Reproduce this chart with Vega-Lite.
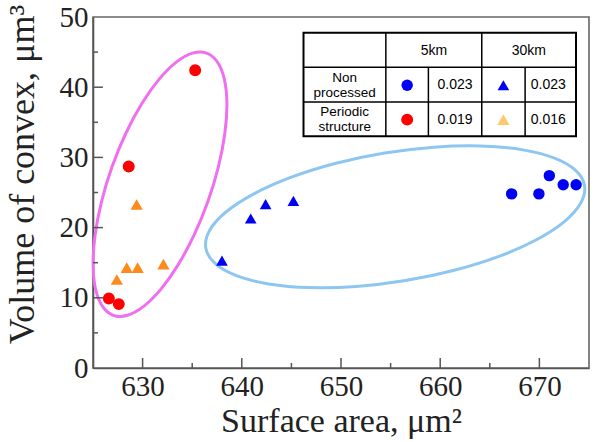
{
  "$schema": "https://vega.github.io/schema/vega-lite/v6.json",
  "width": 496,
  "height": 351,
  "autosize": "none",
  "padding": {"left": 93, "top": 17, "right": 8, "bottom": 74},
  "background": "white",
  "config": {
    "view": {"stroke": "#666666", "strokeWidth": 1.6},
    "axis": {
      "grid": false,
      "ticks": false,
      "domainColor": "#555555",
      "domainWidth": 1.6,
      "labelFont": "Liberation Serif",
      "labelFontSize": 29,
      "labelColor": "#222222",
      "labelFlush": false,
      "labelOverlap": false,
      "titleFont": "Liberation Serif",
      "titleFontSize": 34,
      "titleFontWeight": "normal",
      "titleColor": "#222222"
    }
  },
  "datasets": {
    "samples": [
      {"group": "Periodic 5km", "area": 635.3, "volume": 42.4},
      {"group": "Periodic 5km", "area": 628.6, "volume": 28.7},
      {"group": "Periodic 5km", "area": 626.6, "volume": 9.9},
      {"group": "Periodic 5km", "area": 627.6, "volume": 9.1},
      {"group": "Periodic 30km", "area": 629.4, "volume": 23.3},
      {"group": "Periodic 30km", "area": 628.4, "volume": 14.3},
      {"group": "Periodic 30km", "area": 629.5, "volume": 14.3},
      {"group": "Periodic 30km", "area": 632.1, "volume": 14.8},
      {"group": "Periodic 30km", "area": 627.4, "volume": 12.6},
      {"group": "Non processed 30km", "area": 638.0, "volume": 15.3},
      {"group": "Non processed 30km", "area": 640.9, "volume": 21.3},
      {"group": "Non processed 30km", "area": 642.4, "volume": 23.35},
      {"group": "Non processed 30km", "area": 645.2, "volume": 23.8},
      {"group": "Non processed 5km", "area": 667.2, "volume": 24.8},
      {"group": "Non processed 5km", "area": 669.95, "volume": 24.8},
      {"group": "Non processed 5km", "area": 671.0, "volume": 27.4},
      {"group": "Non processed 5km", "area": 672.4, "volume": 26.1},
      {"group": "Non processed 5km", "area": 673.7, "volume": 26.1}
    ],
    "ringPeriodic": [
      {"k": 0, "area": 636.45, "volume": 44.86},
      {"k": 1, "area": 635.03, "volume": 44.85},
      {"k": 2, "area": 633.40, "volume": 43.58},
      {"k": 3, "area": 631.65, "volume": 41.12},
      {"k": 4, "area": 629.91, "volume": 37.63},
      {"k": 5, "area": 628.29, "volume": 33.37},
      {"k": 6, "area": 626.91, "volume": 28.62},
      {"k": 7, "area": 625.86, "volume": 23.70},
      {"k": 8, "area": 625.21, "volume": 18.95},
      {"k": 9, "area": 625.01, "volume": 14.70},
      {"k": 10, "area": 625.26, "volume": 11.22},
      {"k": 11, "area": 625.96, "volume": 8.77},
      {"k": 12, "area": 627.05, "volume": 7.50},
      {"k": 13, "area": 628.47, "volume": 7.51},
      {"k": 14, "area": 630.10, "volume": 8.78},
      {"k": 15, "area": 631.85, "volume": 11.24},
      {"k": 16, "area": 633.59, "volume": 14.73},
      {"k": 17, "area": 635.21, "volume": 18.99},
      {"k": 18, "area": 636.59, "volume": 23.74},
      {"k": 19, "area": 637.64, "volume": 28.66},
      {"k": 20, "area": 638.29, "volume": 33.41},
      {"k": 21, "area": 638.50, "volume": 37.66},
      {"k": 22, "area": 638.24, "volume": 41.14},
      {"k": 23, "area": 637.54, "volume": 43.59}
    ],
    "ringNonProcessed": [
      {"k": 0, "area": 674.55, "volume": 25.99},
      {"k": 1, "area": 673.62, "volume": 28.19},
      {"k": 2, "area": 671.46, "volume": 29.93},
      {"k": 3, "area": 668.21, "volume": 31.11},
      {"k": 4, "area": 664.09, "volume": 31.63},
      {"k": 5, "area": 659.38, "volume": 31.46},
      {"k": 6, "area": 654.40, "volume": 30.62},
      {"k": 7, "area": 649.50, "volume": 29.16},
      {"k": 8, "area": 645.00, "volume": 27.18},
      {"k": 9, "area": 641.22, "volume": 24.81},
      {"k": 10, "area": 638.40, "volume": 22.22},
      {"k": 11, "area": 636.75, "volume": 19.59},
      {"k": 12, "area": 636.37, "volume": 17.09},
      {"k": 13, "area": 637.30, "volume": 14.89},
      {"k": 14, "area": 639.46, "volume": 13.15},
      {"k": 15, "area": 642.71, "volume": 11.97},
      {"k": 16, "area": 646.83, "volume": 11.45},
      {"k": 17, "area": 651.54, "volume": 11.62},
      {"k": 18, "area": 656.52, "volume": 12.46},
      {"k": 19, "area": 661.42, "volume": 13.92},
      {"k": 20, "area": 665.92, "volume": 15.90},
      {"k": 21, "area": 669.70, "volume": 18.27},
      {"k": 22, "area": 672.52, "volume": 20.86},
      {"k": 23, "area": 674.17, "volume": 23.49}
    ],
    "areaMajorTicks": [{"tick": 630}, {"tick": 640}, {"tick": 650}, {"tick": 660}, {"tick": 670}],
    "areaMinorTicks": [{"tick": 635}, {"tick": 645}, {"tick": 655}, {"tick": 665}],
    "volumeMajorTicks": [{"tick": 10}, {"tick": 20}, {"tick": 30}, {"tick": 40}],
    "volumeMinorTicks": [{"tick": 5}, {"tick": 15}, {"tick": 25}, {"tick": 35}, {"tick": 45}],
    "keyFrame": [
      {"area": 646.22, "area2": 673.69, "volume": 33.0, "volume2": 47.75}
    ],
    "keyLines": [
      {"area": 646.22, "area2": 673.69, "volume": 42.84, "volume2": 42.84},
      {"area": 646.22, "area2": 673.69, "volume": 37.90, "volume2": 37.90},
      {"area": 654.52, "area2": 654.52, "volume": 33.0, "volume2": 47.75},
      {"area": 664.19, "area2": 664.19, "volume": 33.0, "volume2": 47.75},
      {"area": 658.81, "area2": 658.81, "volume": 33.0, "volume2": 42.84},
      {"area": 668.56, "area2": 668.56, "volume": 33.0, "volume2": 42.84}
    ],
    "keyText": [
      {"area": 659.36, "volume": 45.12, "label": "5km"},
      {"area": 668.94, "volume": 45.12, "label": "30km"},
      {"area": 661.5, "volume": 40.27, "label": "0.023"},
      {"area": 670.9, "volume": 40.27, "label": "0.023"},
      {"area": 661.5, "volume": 35.38, "label": "0.019"},
      {"area": 670.9, "volume": 35.38, "label": "0.016"}
    ],
    "keyRowLabels": [
      {"area": 650.37, "volume": 40.27, "label": "Non\nprocessed"},
      {"area": 650.37, "volume": 35.38, "label": "Periodic\nstructure"}
    ],
    "keySymbols": [
      {"area": 656.67, "volume": 40.27, "group": "Non processed 5km"},
      {"area": 666.37, "volume": 40.27, "group": "Non processed 30km"},
      {"area": 656.67, "volume": 35.38, "group": "Periodic 5km"},
      {"area": 666.37, "volume": 35.38, "group": "Periodic 30km"}
    ]
  },
  "layer": [
    {
      "data": {"name": "ringPeriodic"},
      "mark": {"type": "line", "interpolate": "cardinal-closed", "color": "#F06EF0", "strokeWidth": 3},
      "encoding": {
        "x": {
          "field": "area", "type": "quantitative",
          "scale": {"domain": [625, 675], "nice": false, "zero": false},
          "axis": {
            "values": [630, 640, 650, 660, 670],
            "labelPadding": 4,
            "title": "Surface area,  μm²",
            "titlePadding": 3
          }
        },
        "y": {
          "field": "volume", "type": "quantitative",
          "scale": {"domain": [0, 50], "nice": false},
          "axis": {
            "values": [0, 10, 20, 30, 40, 50],
            "labelPadding": 5,
            "title": "Volume of convex, μm³",
            "titleFontSize": 36,
            "titlePadding": 18,
            "titleY": 157
          }
        },
        "order": {"field": "k", "type": "quantitative"}
      }
    },
    {
      "data": {"name": "ringNonProcessed"},
      "mark": {"type": "line", "interpolate": "cardinal-closed", "color": "#8EC6F2", "strokeWidth": 3},
      "encoding": {
        "x": {"field": "area", "type": "quantitative"},
        "y": {"field": "volume", "type": "quantitative"},
        "order": {"field": "k", "type": "quantitative"}
      }
    },
    {
      "data": {"name": "areaMajorTicks"},
      "mark": {"type": "rule", "color": "#555555", "strokeWidth": 1.5},
      "encoding": {
        "x": {"field": "tick", "type": "quantitative"},
        "y": {"datum": 0, "type": "quantitative"},
        "y2": {"datum": 1.43}
      }
    },
    {
      "data": {"name": "areaMinorTicks"},
      "mark": {"type": "rule", "color": "#555555", "strokeWidth": 1.5},
      "encoding": {
        "x": {"field": "tick", "type": "quantitative"},
        "y": {"datum": 0, "type": "quantitative"},
        "y2": {"datum": 0.71}
      }
    },
    {
      "data": {"name": "volumeMajorTicks"},
      "mark": {"type": "rule", "color": "#555555", "strokeWidth": 1.5},
      "encoding": {
        "y": {"field": "tick", "type": "quantitative"},
        "x": {"datum": 625, "type": "quantitative"},
        "x2": {"datum": 626.0}
      }
    },
    {
      "data": {"name": "volumeMinorTicks"},
      "mark": {"type": "rule", "color": "#555555", "strokeWidth": 1.5},
      "encoding": {
        "y": {"field": "tick", "type": "quantitative"},
        "x": {"datum": 625, "type": "quantitative"},
        "x2": {"datum": 625.5}
      }
    },
    {
      "data": {"name": "samples"},
      "mark": {"type": "point", "filled": true, "opacity": 1, "strokeWidth": 0},
      "encoding": {
        "x": {"field": "area", "type": "quantitative"},
        "y": {"field": "volume", "type": "quantitative"},
        "shape": {
          "field": "group", "type": "nominal",
          "scale": {
            "domain": ["Non processed 5km", "Non processed 30km", "Periodic 5km", "Periodic 30km"],
            "range": ["circle", "triangle-up", "circle", "triangle-up"]
          },
          "legend": null
        },
        "color": {
          "field": "group", "type": "nominal",
          "scale": {
            "domain": ["Non processed 5km", "Non processed 30km", "Periodic 5km", "Periodic 30km"],
            "range": ["#0000F5", "#0000F5", "#FF0000", "#FF8A1C"]
          },
          "legend": null
        },
        "size": {
          "field": "group", "type": "nominal",
          "scale": {
            "domain": ["Non processed 5km", "Non processed 30km", "Periodic 5km", "Periodic 30km"],
            "range": [130, 150, 130, 150]
          },
          "legend": null
        }
      }
    },
    {
      "data": {"name": "keyFrame"},
      "mark": {"type": "rect", "fill": "white", "stroke": "black", "strokeWidth": 2},
      "encoding": {
        "x": {"field": "area", "type": "quantitative"},
        "x2": {"field": "area2"},
        "y": {"field": "volume", "type": "quantitative"},
        "y2": {"field": "volume2"}
      }
    },
    {
      "data": {"name": "keyLines"},
      "mark": {"type": "rule", "color": "black", "strokeWidth": 1.5},
      "encoding": {
        "x": {"field": "area", "type": "quantitative"},
        "x2": {"field": "area2"},
        "y": {"field": "volume", "type": "quantitative"},
        "y2": {"field": "volume2"}
      }
    },
    {
      "data": {"name": "keySymbols"},
      "mark": {"type": "point", "filled": true, "opacity": 1, "strokeWidth": 0},
      "encoding": {
        "x": {"field": "area", "type": "quantitative"},
        "y": {"field": "volume", "type": "quantitative"},
        "shape": {"field": "group", "type": "nominal", "legend": null},
        "size": {"field": "group", "type": "nominal", "legend": null},
        "fill": {
          "field": "group", "type": "nominal",
          "scale": {
            "domain": ["Non processed 5km", "Non processed 30km", "Periodic 5km", "Periodic 30km"],
            "range": ["#0000F5", "#0000F5", "#FF0000", "#FFC870"]
          },
          "legend": null
        }
      }
    },
    {
      "data": {"name": "keyText"},
      "mark": {
        "type": "text", "font": "Liberation Sans", "fontSize": 14,
        "align": "center", "baseline": "middle", "color": "black"
      },
      "encoding": {
        "x": {"field": "area", "type": "quantitative"},
        "y": {"field": "volume", "type": "quantitative"},
        "text": {"field": "label", "type": "nominal"}
      }
    },
    {
      "data": {"name": "keyRowLabels"},
      "mark": {
        "type": "text", "font": "Liberation Sans", "fontSize": 13.5, "lineHeight": 15.5,
        "lineBreak": "\n", "align": "center", "baseline": "middle", "dy": -7.75, "color": "black"
      },
      "encoding": {
        "x": {"field": "area", "type": "quantitative"},
        "y": {"field": "volume", "type": "quantitative"},
        "text": {"field": "label", "type": "nominal"}
      }
    }
  ]
}
